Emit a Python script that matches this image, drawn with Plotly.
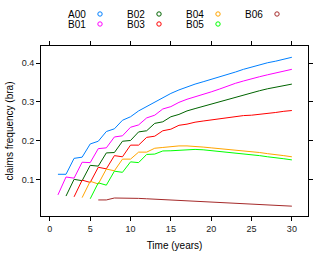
import plotly.graph_objects as go

names = ["A00", "B01", "B02", "B03", "B04", "B05", "B06"]
colors = ["#0080ff", "#ff00ff", "#006400", "#ff0000", "#ffa500", "#00ff00", "#a52a2a"]
start_years = [1, 1, 2, 3, 4, 5, 6]

A00 = [0.114, 0.114, 0.155, 0.158, 0.192, 0.199, 0.224, 0.231, 0.253, 0.262, 0.277, 0.288,
       0.301, 0.312, 0.322, 0.331, 0.339, 0.346, 0.352, 0.358, 0.365, 0.371, 0.377, 0.384,
       0.390, 0.395, 0.401, 0.405, 0.410, 0.415]
B01 = [0.061, 0.107, 0.104, 0.145, 0.144, 0.180, 0.182, 0.210, 0.213, 0.235, 0.241, 0.259,
       0.266, 0.282, 0.288, 0.299, 0.307, 0.313, 0.320, 0.326, 0.333, 0.341, 0.348, 0.354,
       0.360, 0.365, 0.370, 0.375, 0.380, 0.384]
B02 = [0.058, 0.101, 0.0975, 0.137, 0.135, 0.169, 0.170, 0.199, 0.201, 0.223, 0.226, 0.245,
       0.249, 0.262, 0.268, 0.277, 0.283, 0.289, 0.295, 0.301, 0.307, 0.312, 0.317, 0.324,
       0.329, 0.334, 0.338, 0.342, 0.346]
B03 = [0.056, 0.099, 0.093, 0.132, 0.128, 0.162, 0.159, 0.189, 0.189, 0.209, 0.212, 0.226,
       0.230, 0.240, 0.243, 0.248, 0.251, 0.254, 0.257, 0.260, 0.263, 0.265, 0.266, 0.268,
       0.270, 0.273, 0.276, 0.278]
B04 = [0.054, 0.096, 0.089, 0.1275, 0.123, 0.153, 0.153, 0.171, 0.171, 0.181, 0.183, 0.185,
       0.187, 0.187, 0.186, 0.184, 0.182, 0.180, 0.178, 0.177, 0.175, 0.173, 0.170, 0.167,
       0.165, 0.162, 0.159]
B05 = [0.051, 0.092, 0.086, 0.122, 0.119, 0.146, 0.144, 0.165, 0.166, 0.174, 0.1745, 0.176,
       0.178, 0.178, 0.177, 0.175, 0.173, 0.171, 0.169, 0.167, 0.164, 0.162, 0.159, 0.157,
       0.154, 0.151]
B06 = [0.048, 0.048, 0.053, 0.053, 0.053, 0.052, 0.051, 0.050, 0.049, 0.048, 0.047, 0.046,
       0.045, 0.044, 0.043, 0.042, 0.041, 0.040, 0.039, 0.038, 0.037, 0.035, 0.034, 0.033,
       0.032]
series = [A00, B01, B02, B03, B04, B05, B06]

x_ticks = [0, 5, 10, 15, 20, 25, 30]
y_ticks = [0.1, 0.2, 0.3, 0.4]
y_labels = ["0.1", "0.2", "0.3", "0.4"]

fig = go.Figure()
for name, col, s0, vals in zip(names, colors, start_years, series):
    xs = list(range(s0, s0 + len(vals)))
    fig.add_trace(go.Scatter(x=xs, y=vals, mode="lines", name=name,
                             line=dict(color=col, width=1), showlegend=False,
                             hoverinfo="skip"))

font = dict(family="Liberation Sans, Arial, sans-serif", size=10, color="black")

W, H = 332, 258
L, R, T, B = 41, 308, 46, 216
PW, PH = R - L, B - T


def px2paper(px, py):
    return (px - L) / PW, (B - py) / PH


# manual lattice-style legend: column-major, text then open circle
col_x_text = [88, 147, 206, 265]
col_x_pt = [100, 159, 218, 277]
row_y = [14, 24]
for i in range(7):
    c = i // 2
    r = i % 2
    tx, ty = px2paper(col_x_text[c], row_y[r])
    fig.add_annotation(x=tx, y=ty, xref="paper", yref="paper",
                       text=names[i], showarrow=False, xanchor="right", yanchor="middle",
                       font=font)
    cx, cy = px2paper(col_x_pt[c], row_y[r])
    rx = 2.2 / PW
    ry = 2.2 / PH
    fig.add_shape(type="circle", xref="paper", yref="paper",
                  x0=cx - rx, x1=cx + rx, y0=cy - ry, y1=cy + ry,
                  line=dict(color=colors[i], width=1))

axis_common = dict(showline=True, linecolor="black", linewidth=1, mirror="ticks",
                   ticks="outside", ticklen=4, tickcolor="black", tickwidth=1,
                   showgrid=False, zeroline=False, automargin=False,
                   tickfont=dict(family=font["family"], size=9, color="#222"))

fig.update_xaxes(range=[-1.1, 32.0], tickvals=x_ticks,
                 title=dict(text="Time (years)", font=font, standoff=9), **axis_common)
fig.update_yaxes(range=[0.0067, 0.444], tickvals=y_ticks, ticktext=y_labels,
                 title=dict(text="claims frequency (bra)", font=font, standoff=6), **axis_common)

fig.update_layout(width=W, height=H, margin=dict(l=L, r=W - R, t=T, b=H - B, autoexpand=False),
                  plot_bgcolor="white", paper_bgcolor="white", font=font, hovermode=False)

fig.write_html("out.html", config={"displayModeBar": False, "staticPlot": True},
               post_script="document.body.style.margin='0';document.body.style.overflow='hidden';")
